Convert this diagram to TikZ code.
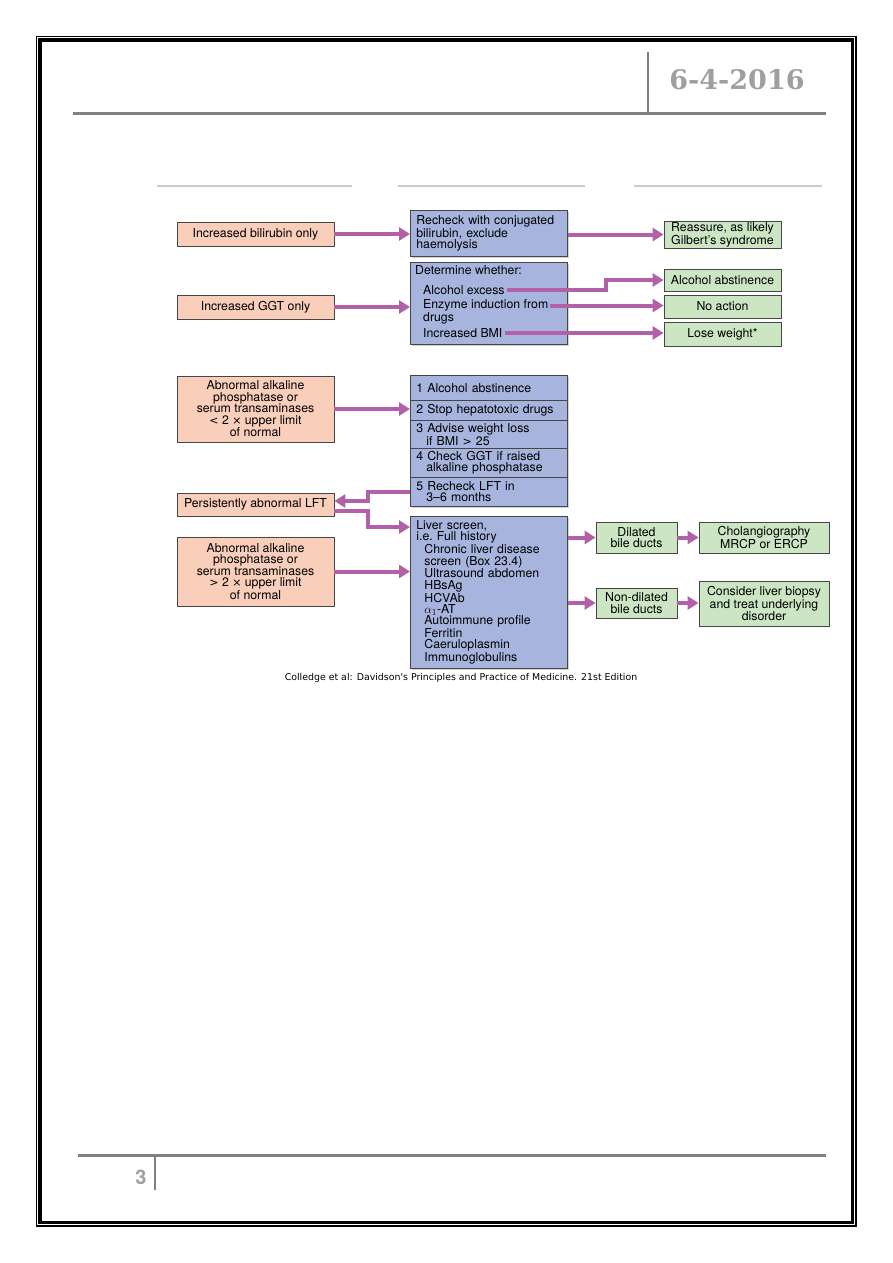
\documentclass[tikz,border=0pt]{standalone}
\usepackage{fontspec}
\setmainfont{TeX Gyre Heros}
\newfontfamily\capfont{DejaVu Sans}
\newfontfamily\datefont{DejaVu Serif}
\usetikzlibrary{positioning,arrows.meta,shadows}
\definecolor{salmonfill}{RGB}{249,206,186}
\definecolor{bluefill}{RGB}{166,180,222}
\definecolor{greenfill}{RGB}{204,230,196}
\definecolor{boxline}{RGB}{70,70,70}
\definecolor{link}{RGB}{178,96,168}
\definecolor{rulegray}{RGB}{128,128,128}
\newcommand\diag{\fontsize{12.3}{11.4}\selectfont}
\newcommand\sym[1]{{\capfont\fontsize{11}{11.4}\selectfont #1}}

\begin{document}
\begin{tikzpicture}[
  x = 1pt,
  y = -1pt,
  box/.style = {
    draw = boxline,
    line width = 0.8pt,
    font = \diag,
    drop shadow = {shadow xshift=1.2pt, shadow yshift=-1.2pt, opacity=.35},
  },
  salmon/.style = {
    box,
    fill = salmonfill,
    align = center,
    minimum width = 157,
    inner sep = 1pt,
  },
  blue/.style = {
    box,
    fill = bluefill,
    align = left,
    anchor = north west,
    minimum width = 157,
    text width = 145,
    inner xsep = 6pt,
    inner ysep = 1pt,
  },
  green/.style = {
    box,
    fill = greenfill,
    align = center,
    inner sep = 1pt,
  },
  item/.style = {
    anchor = west,
    font = \diag,
    inner xsep = 2pt,
    inner ysep = 0pt,
  },
  arrow/.style = {
    draw = link,
    line width = 4pt,
    -{Triangle[length=11pt, width=13pt]},
  },
  rule/.style = {
    draw = rulegray,
    line width = 3pt,
  },
]

  \useasboundingbox (0,0) rectangle (893,1263);
  \fill[white] (0,0) rectangle (893,1263);

  % page frame
  \draw[line width=1.2pt] (36.5,36.5) rectangle (856,1226);
  \draw[line width=3.3pt] (40,40) rectangle (852.5,1222.5);

  % header and footer
  \draw[rule] (73,113) -- (826,113);
  \draw[rulegray, line width=2pt] (648,52) -- (648,112);
  \node[text=gray!75, font=\datefont\bfseries\fontsize{27}{30}\selectfont] (date) at (737,80) {6-4-2016};
  \draw[rule] (78,1155) -- (826,1155);
  \draw[rulegray, line width=2pt] (155,1155) -- (155,1190);
  \node[text=gray!75, font=\bfseries\fontsize{20}{22}\selectfont] (page) at (141,1177) {3};

  % column headings (blank)
  \draw[black!20, line width=2pt] (157,186) -- (352,186);
  \draw[black!20, line width=2pt] (398,186) -- (585,186);
  \draw[black!20, line width=2pt] (634,186) -- (822,186);

  % bilirubin
  \node[salmon, minimum height=24] (bili) at (255.5,234) {Increased bilirubin only};
  \node[blue, minimum height=46] (recheck) at (410,210) {Recheck with conjugated\\bilirubin, exclude\\haemolysis};
  \node[green, minimum width=117, minimum height=27] (gilbert) at (722.5,234.5) {Reassure, as likely\\Gilbert's syndrome};

  % GGT
  \node[salmon, minimum height=24] (ggt) at (255.5,307) {Increased GGT only};
  \node[blue, minimum height=82] (det) at (410,262) {};
  \node[item] (dw) at (413,270) {Determine whether:};
  \node[item] (alc) at (421,290) {Alcohol excess};
  \node[item] (enz) at (421,305.5) {Enzyme induction from};
  \node[item] (drg) at (421,318) {drugs};
  \node[item] (bmi) at (421,333) {Increased BMI};
  \node[green, minimum width=117, minimum height=22] (abst) at (722.5,280) {Alcohol abstinence};
  \node[green, minimum width=117, minimum height=23] (noact) at (722.5,306.5) {No action};
  \node[green, minimum width=117, minimum height=24] (lose) at (722.5,334) {Lose weight*};
  \coordinate (kink) at (606,280);

  % mild rise
  \node[salmon, minimum height=66] (abn1) at (255.5,409) {Abnormal alkaline\\phosphatase or\\serum transaminases\\\sym{<} 2 \sym{×} upper limit\\of normal};
  \node[blue, minimum height=25] (b1) at (410,375) {1 Alcohol abstinence};
  \node[blue, minimum height=20] (b2) at (410,400) {2 Stop hepatotoxic drugs};
  \node[blue, minimum height=28] (b3) at (410,420) {3 Advise weight loss\\\hspace*{10pt}if BMI \sym{>} 25};
  \node[blue, minimum height=29] (b4) at (410,448) {4 Check GGT if raised\\\hspace*{10pt}alkaline phosphatase};
  \node[blue, minimum height=29] (b5) at (410,477) {5 Recheck LFT in\\\hspace*{10pt}3--6 months};

  % persistent / marked rise
  \node[salmon, minimum height=23] (pers) at (255.5,504.5) {Persistently abnormal LFT};
  \node[salmon, minimum height=69] (abn2) at (255.5,571.5) {Abnormal alkaline\\phosphatase or\\serum transaminases\\\sym{>} 2 \sym{×} upper limit\\of normal};
  \node[blue, minimum height=152] (liver) at (410,516) {Liver screen,\\i.e.\ Full history\\
    \hspace*{8pt}Chronic liver disease\\\hspace*{8pt}screen (Box 23.4)\\
    \hspace*{8pt}Ultrasound abdomen\\\hspace*{8pt}HBsAg\\\hspace*{8pt}HCVAb\\
    \hspace*{8pt}$\alpha_1$-AT\\\hspace*{8pt}Autoimmune profile\\\hspace*{8pt}Ferritin\\
    \hspace*{8pt}Caeruloplasmin\\\hspace*{8pt}Immunoglobulins};
  \node[green, minimum width=81, minimum height=31] (dil) at (636.5,537.5) {Dilated\\bile ducts};
  \node[green, minimum width=130, minimum height=31] (chol) at (764,537.5) {Cholangiography\\MRCP or ERCP};
  \node[green, minimum width=81, minimum height=30] (nondil) at (636.5,603) {Non-dilated\\bile ducts};
  \node[green, minimum width=130, minimum height=45] (consider) at (764,603.5) {Consider liver biopsy\\and treat underlying\\disorder};

  \node[font=\capfont\fontsize{9.4}{11}\selectfont] (source) at (461,678) {Colledge et al: Davidson's Principles and Practice of Medicine. 21st Edition};

  % connectors
  \path[arrow] (bili.east) -- (bili.east -| recheck.west);
  \path[arrow] (recheck.east |- gilbert.west) -- (gilbert.west);
  \path[arrow] (ggt.east) -- (ggt.east -| det.west);
  \path[arrow] (alc.east) -- (alc.east -| kink) |- (abst.west);
  \path[arrow] (enz.east) -- (enz.east -| noact.west);
  \path[arrow] (bmi.east) -- (bmi.east -| lose.west);
  \path[arrow] (abn1.east) -- (abn1.east -| b2.west);
  \path[arrow] (b5.west) -- ++(-42,0) |- ([yshift=3.5pt]pers.east);
  \path[arrow] ([yshift=-6.5pt]pers.east) -- ++(34,0) |- ([yshift=-11pt]liver.north west);
  \path[arrow] (abn2.east) -- (abn2.east -| liver.west);
  \path[arrow] (liver.east |- dil.west) -- (dil.west);
  \path[arrow] (liver.east |- nondil.west) -- (nondil.west);
  \path[arrow] (dil.east) -- (chol.west);
  \path[arrow] (nondil.east) -- (nondil.east -| consider.west);

\end{tikzpicture}
\end{document}
